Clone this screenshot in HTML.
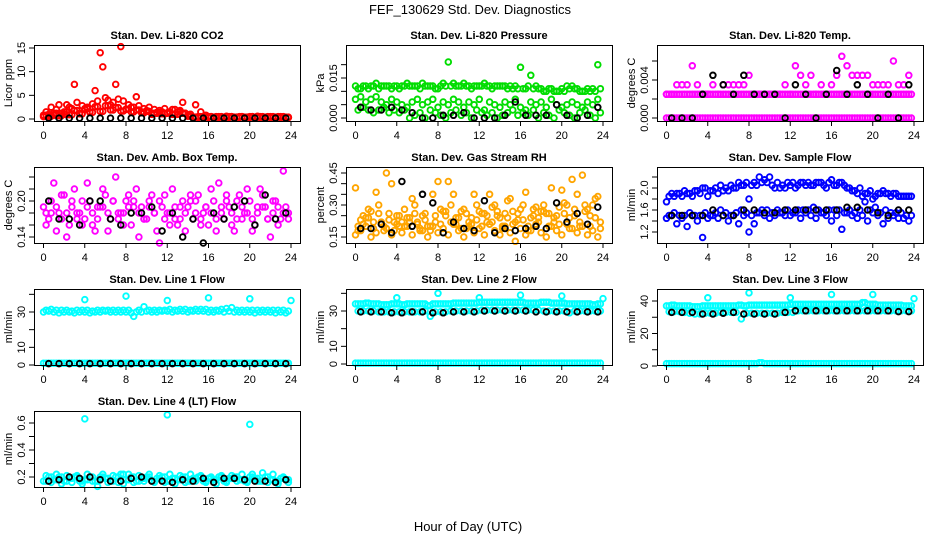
<!DOCTYPE html>
<html><head><meta charset="utf-8"><style>
html,body{margin:0;padding:0;background:#fff;}
svg{display:block;font-family:"Liberation Sans",sans-serif;}
</style></head><body>
<svg id="chart" width="936" height="540" viewBox="0 0 936 540" xmlns="http://www.w3.org/2000/svg">
<text x="470" y="14" font-size="13" text-anchor="middle">FEF_130629  Std. Dev. Diagnostics</text>
<text x="468" y="531" font-size="13" text-anchor="middle">Hour of Day (UTC)</text>
</svg>
<script>
const H48=[0,0.5,1,1.5,2,2.5,3,3.5,4,4.5,5,5.5,6,6.5,7,7.5,8,8.5,9,9.5,10,10.5,11,11.5,12,12.5,13,13.5,14,14.5,15,15.5,16,16.5,17,17.5,18,18.5,19,19.5,20,20.5,21,21.5,22,22.5,23,23.5];
const HQ48=[0.25,0.75,1.25,1.75,2.25,2.75,3.25,3.75,4.25,4.75,5.25,5.75,6.25,6.75,7.25,7.75,8.25,8.75,9.25,9.75,10.25,10.75,11.25,11.75,12.25,12.75,13.25,13.75,14.25,14.75,15.25,15.75,16.25,16.75,17.25,17.75,18.25,18.75,19.25,19.75,20.25,20.75,21.25,21.75,22.25,22.75,23.25,23.75];
const HB24=[0.5,1.5,2.5,3.5,4.5,5.5,6.5,7.5,8.5,9.5,10.5,11.5,12.5,13.5,14.5,15.5,16.5,17.5,18.5,19.5,20.5,21.5,22.5,23.5];
const xTicks=[0,4,8,12,16,20,24];
// CO2
const co2A=[1.5,2.5,2,1.2,3,2.2,3.5,2.8,2.5,3.2,3.8,11,4,3.5,4.2,3.8,3,2.5,2.8,2.2,2.5,2,1.8,2.2,1.5,2,1.8,1.2,1,3,1.5,0.8,0.5,0.5,0.4,0.6,0.5,0.4,0.5,0.4,0.5,0.6,0.4,0.5,0.4,0.5,0.4,0.3];
const co2B=[0.5,1,0.8,3,1,2.5,7.3,1.2,2,1.5,6,14,4.5,3,7.3,15.3,2,2.5,4.7,1.5,1.8,1,1.2,1.5,1.2,2,1,3.5,0.8,0.4,0.3,0.3,0.3,0.3,0.3,0.3,0.3,0.3,0.3,0.3,0.3,0.3,0.3,0.3,0.3,0.3,0.3,0.3];
const co2C=[0.8,0.6,1.2,0.7,1.5,0.9,1.8,1.1,2.2,1.4,2.6,1.6,2.8,1.9,2.4,1.7,2.1,1.5,1.9,1.3,1.6,1.2,1.4,1.1,1.3,1.0,1.5,1.2,0.6,0.4,0.5,0.4,0.5,0.4,0.5,0.4,0.5,0.4,0.5,0.4,0.5,0.4,0.5,0.4,0.5,0.4,0.5,0.4];
const co2K=[0.2,0.2,0.2,0.2,0.2,0.2,0.2,0.2,0.2,0.2,0.2,0.2,0.2,0.2,0.2,0.2,0.2,0.2,0.2,0.2,0.2,0.2,0.2,0.2];
// Pressure
const pA=[0.012,0.011,0.012,0.012,0.013,0.012,0.012,0.011,0.012,0.012,0.013,0.012,0.012,0.013,0.012,0.012,0.011,0.013,0.021,0.013,0.012,0.013,0.012,0.012,0.012,0.013,0.012,0.012,0.012,0.012,0.012,0.012,0.019,0.011,0.016,0.012,0.011,0.010,0.011,0.010,0.011,0.012,0.012,0.011,0.010,0.011,0.011,0.020];
const pB=[0.007,0.008,0.006,0.007,0.008,0.006,0.005,0.007,0.006,0.005,0.004,0.006,0.007,0.005,0.006,0.007,0.004,0.006,0.005,0.007,0.006,0.004,0.006,0.005,0.007,0.003,0.006,0.005,0.004,0.006,0.005,0.007,0.004,0.003,0.006,0.005,0.006,0.004,0.007,0.005,0.004,0.005,0.006,0.005,0.004,0.006,0.005,0.007];
const pC=[0.003,0.004,0.003,0.002,0.003,0.004,0.002,0.003,0.002,0.003,0.000,0.001,0.002,0.000,0.003,0.002,0.001,0.000,0.002,0.003,0.001,0.002,0.000,0.003,0.002,0.001,0.002,0.000,0.001,0.002,0.003,0.001,0.002,0.001,0.003,0.000,0.002,0.001,0.000,0.003,0.002,0.001,0.000,0.002,0.003,0.001,0.000,0.002];
const pD=[0.011,0.012,0.011,0.012,0.011,0.012,0.012,0.012,0.011,0.012,0.012,0.012,0.011,0.012,0.012,0.011,0.012,0.012,0.012,0.012,0.012,0.012,0.011,0.012,0.012,0.012,0.011,0.012,0.012,0.011,0.011,0.011,0.011,0.012,0.011,0.011,0.010,0.011,0.010,0.010,0.010,0.011,0.011,0.010,0.010,0.010,0.010,0.011];
const pK=[0.004,0.003,0.003,0.004,0.003,0.002,0.000,0.000,0.001,0.001,0.002,0.000,0.000,0.000,0.001,0.006,0.001,0.001,0.001,0.005,0.001,0.000,0.001,0.004];
// Li-820 Temp
const tA=[0,0,0,0,0,0,0,0,0,0,0,0,0,0,0,0,0,0,0,0,0,0,0,0,0,0,0,0,0,0,0,0,0,0,0,0,0,0,0,0,0,0,0,0,0,0,0,0];
const tB=[0.0025,0.0025,0.0025,0.0025,0.0025,0.0025,0.0025,0.0025,0.0025,0.0025,0.0025,0.0025,0.0025,0.0025,0.0025,0.0025,0.0025,0.0025,0.0025,0.0025,0.0025,0.0025,0.0025,0.0025,0.0025,0.0025,0.0025,0.0025,0.0025,0.0025,0.0025,0.0025,0.0025,0.0025,0.0025,0.0025,0.0025,0.0025,0.0025,0.0025,0.0025,0.0025,0.0025,0.0025,0.0025,0.0025,0.0025,0.0025];
const tC=[0.0025,0.0025,0.0035,0.0035,0.0035,0.0055,0.0035,0.0025,0.0025,0.0035,0.0025,0.0035,0.0035,0.0035,0.0035,0.0035,0.0045,0.0025,0.0025,0.0025,0.0025,0.0025,0.0025,0.0035,0.0025,0.0055,0.0045,0.0035,0.0045,0.0025,0.0035,0.0025,0.0035,0.0045,0.0065,0.0055,0.0045,0.0045,0.0045,0.0045,0.0035,0.0035,0.0035,0.0035,0.006,0.0035,0.0035,0.0045];
const tK=[0,0,0,0.0025,0.0045,0.0035,0.0025,0.0045,0.0025,0.0025,0.0025,0,0.0035,0.0025,0,0.0025,0.005,0.0025,0.0035,0.0025,0,0.0025,0,0.0035];
// Box temp
const bA=[0.19,0.17,0.23,0.18,0.21,0.16,0.22,0.18,0.17,0.2,0.15,0.19,0.21,0.17,0.24,0.18,0.2,0.16,0.22,0.19,0.17,0.21,0.15,0.19,0.18,0.22,0.16,0.2,0.19,0.17,0.21,0.18,0.16,0.2,0.23,0.17,0.19,0.15,0.21,0.18,0.2,0.16,0.22,0.19,0.14,0.2,0.17,0.19];
const bB=[0.16,0.2,0.15,0.21,0.14,0.19,0.17,0.2,0.23,0.16,0.19,0.22,0.15,0.2,0.18,0.16,0.21,0.19,0.14,0.17,0.2,0.18,0.13,0.21,0.16,0.19,0.17,0.15,0.21,0.2,0.16,0.19,0.22,0.15,0.18,0.21,0.16,0.2,0.17,0.22,0.15,0.19,0.21,0.17,0.2,0.16,0.25,0.18];
const bC=[0.18,0.18,0.19,0.17,0.18,0.2,0.18,0.16,0.19,0.18,0.17,0.19,0.18,0.2,0.17,0.18,0.19,0.2,0.18,0.17,0.19,0.18,0.2,0.17,0.18,0.17,0.19,0.18,0.2,0.18,0.17,0.19,0.18,0.17,0.19,0.2,0.18,0.17,0.19,0.18,0.17,0.18,0.19,0.17,0.18,0.19,0.18,0.17];
const bK=[0.2,0.17,0.17,0.16,0.2,0.2,0.17,0.16,0.18,0.18,0.19,0.15,0.18,0.14,0.17,0.13,0.18,0.17,0.19,0.2,0.16,0.21,0.17,0.18];
// RH
const rA=[0.2,0.25,0.28,0.22,0.3,0.18,0.26,0.22,0.2,0.28,0.24,0.3,0.18,0.26,0.2,0.22,0.28,0.25,0.3,0.21,0.27,0.19,0.24,0.3,0.26,0.22,0.29,0.25,0.2,0.32,0.27,0.23,0.3,0.2,0.28,0.24,0.3,0.26,0.22,0.29,0.31,0.24,0.28,0.2,0.3,0.25,0.33,0.22];
const rB=[0.16,0.18,0.2,0.15,0.17,0.22,0.19,0.16,0.21,0.17,0.2,0.16,0.22,0.18,0.15,0.2,0.17,0.19,0.16,0.21,0.18,0.15,0.2,0.17,0.19,0.16,0.21,0.18,0.16,0.2,0.17,0.13,0.19,0.16,0.18,0.21,0.17,0.15,0.2,0.18,0.16,0.21,0.19,0.17,0.2,0.16,0.18,0.15];
const rC=[0.38,0.23,0.24,0.27,0.36,0.22,0.45,0.4,0.25,0.22,0.24,0.33,0.21,0.25,0.2,0.35,0.41,0.27,0.41,0.35,0.24,0.28,0.22,0.35,0.27,0.26,0.35,0.3,0.24,0.26,0.33,0.22,0.28,0.36,0.24,0.29,0.27,0.26,0.38,0.25,0.37,0.3,0.42,0.35,0.44,0.28,0.3,0.34];
const rD=[0.18,0.21,0.24,0.19,0.26,0.2,0.23,0.18,0.25,0.2,0.22,0.26,0.19,0.23,0.18,0.25,0.21,0.27,0.22,0.24,0.19,0.26,0.21,0.23,0.2,0.25,0.22,0.27,0.19,0.24,0.21,0.26,0.23,0.18,0.25,0.22,0.27,0.2,0.24,0.21,0.26,0.19,0.25,0.22,0.27,0.2,0.24,0.19];
const rK=[0.19,0.19,0.21,0.17,0.41,0.2,0.35,0.31,0.17,0.22,0.19,0.18,0.32,0.17,0.19,0.18,0.19,0.2,0.19,0.31,0.22,0.26,0.21,0.29];
// Sample flow
const sA=[1.75,1.9,1.9,1.85,1.9,1.85,1.95,2.0,1.85,1.95,1.9,1.95,1.95,2.0,2.1,2.05,1.8,2.1,2.2,2.15,2.2,2.0,2.0,2.0,2.05,2.0,2.1,2.05,2.05,2.1,2.1,2.0,2.15,2.05,2.1,2.0,1.95,1.9,1.85,1.9,1.8,1.9,1.95,1.9,1.9,1.85,1.85,1.85];
const sB=[1.45,1.5,1.35,1.45,1.3,1.5,1.4,1.1,1.45,1.5,1.45,1.5,1.4,1.5,1.35,1.5,1.2,1.35,1.55,1.5,1.45,1.5,1.55,1.5,1.5,1.55,1.45,1.55,1.5,1.45,1.55,1.5,1.4,1.5,1.25,1.55,1.5,1.45,1.5,1.4,1.55,1.5,1.35,1.45,1.5,1.45,1.45,1.4];
const sC=[1.5,1.55,1.5,1.5,1.55,1.5,1.5,1.55,1.5,1.55,1.6,1.55,1.5,1.55,1.6,1.55,1.5,1.55,1.6,1.6,1.55,1.6,1.55,1.6,1.55,1.6,1.6,1.6,1.65,1.6,1.55,1.6,1.6,1.6,1.55,1.6,1.55,1.6,1.75,1.6,1.65,1.55,1.6,1.55,1.55,1.55,1.5,1.5];
const sD=[1.85,1.85,1.9,1.95,1.9,1.95,1.9,2.0,1.95,2.0,2.05,2.0,2.05,2.0,2.05,2.1,2.05,2.05,2.1,2.1,2.05,2.1,2.05,2.1,2.1,2.05,2.1,2.1,2.05,2.1,2.05,2.1,2.05,2.1,2.05,2.0,1.95,2.0,1.9,1.95,1.85,1.9,1.9,1.85,1.9,1.85,1.85,1.85];
const sK=[1.5,1.5,1.5,1.5,1.6,1.5,1.5,1.6,1.6,1.55,1.55,1.6,1.6,1.6,1.6,1.6,1.6,1.65,1.65,1.6,1.55,1.5,1.6,1.6];
// Line flows
const outH=[4,8,12,16,20,24];
const l1A=[30,30.5,30,29.5,30,30,29.5,30,30,29.5,30,30,30.5,30,30,30,30,29.5,30,30,30.5,30,30,30.5,30.5,30,30.5,30.5,30,30.5,30.5,30.5,30,30,30.5,30,30.5,30,30,30,30,29.5,30,30,30,29.5,30,29.5];
const l1B=[31,31.5,31,31,31,30.5,31,31,31,30.5,31,31,31,31,31,31,31,27.5,31,33,31,31,31,31,31.5,31,31.5,31.5,31,31.5,31.5,31.5,31,31,31.5,32,32.5,31,31,31,31,31,31,31,31,31,31,30.5];
const l1Low=[1,1,1,1,1,1,1,1,1,1,1,1,1,1,1,1,1,1,1,1,1,1,1,1,1,1,1,1,1,1,1,1,1,1,1,1,1,1,1,1,1,1,1,1,1,1,1,1];
const l1K=[0.8,0.8,0.8,0.8,0.8,0.8,0.8,0.8,0.8,0.8,0.8,0.8,0.8,0.8,0.8,0.8,0.8,0.8,0.8,0.8,0.8,0.8,0.8,0.8];
const l1Out=[37,39,36.5,38,37.5,36.5];
const l2A=[34,34,34.5,34,34,33.5,33.5,34,34,33.5,34,34,34,34,33,34,34,34,34,34.5,34.5,34.5,34.5,34.5,35,35,35,35,35,35,35,35,35,34.5,34.5,34.5,35,35,34.5,34.5,34.5,34,34,34,34,34,33.5,34];
const l2B=[30,30,30,30,29.5,29.5,29.5,29.5,29.5,29.5,29.5,29.5,29.5,30,27,29.5,29.5,29.5,30,30,30,30,30,30,30.5,30.5,30.5,30.5,30.5,30.5,30.5,30.5,30.5,30.5,30.5,30.5,30,30,30,30,30,29,30,30,30,30,30,30];
const l2Low=[0.5,0.5,0.5,0.5,0.5,0.5,0.5,0.5,0.5,0.5,0.5,0.5,0.5,0.5,0.5,0.5,0.5,0.5,0.5,0.5,0.5,0.5,0.5,0.5,0.5,0.5,0.5,0.5,0.5,0.5,0.5,0.5,0.5,0.5,0.5,0.5,0.5,0.5,0.5,0.5,0.5,0.5,0.5,0.5,0.5,0.5,0.5,0.5];
const l2K=[29.5,29.5,29.5,29,29,29.5,29.5,29,29,29.5,29.5,29.5,30,30,30,30,30,29.5,29.5,29.5,29.5,29.5,29.5,29.5];
const l2Out=[37.5,40,37.5,39,38.5,37];
const l3A=[37,37.5,37,37,37,36.5,36.5,37,37,37,37,37,37,37,37.5,37,37.5,37.5,37.5,37.5,37.5,37.5,37.5,37.5,38,38,38,38,38,38,38,38,38,38,38,38,38,38,39,38,38,37.5,37.5,37.5,37.5,37.5,37,37];
const l3B=[33.5,33.5,33.5,33,32.5,32,32,32.5,32.5,32.5,33,33,33,33,29,32.5,32.5,32.5,32.5,32.5,32.5,32.5,33,33,33,34,34,34,34,34,34,34,34,34,34,34,34,34,34,34,34,34,34,34,34,34,34,34];
const l3Low=[1.5,1.5,1.5,1.5,1.5,1.5,1.5,1.5,1.5,1.5,1.5,1.5,1.5,1.5,1.5,1.5,1.5,1.5,2,1.5,1.5,1.5,1.5,1.5,1.5,1.5,1.5,1.5,1.5,1.5,1.5,1.5,1.5,1.5,1.5,1.5,1.5,1.5,1.5,1.5,1.5,1.5,1.5,1.5,1.5,1.5,1.5,1.5];
const l3K=[33,33,33,32,32,32.5,33,32,32,32,32,33,34,34,34,34,34,34,34,34,34,34,33.5,33.5];
const l3Out=[42,45,42,44,44,41.5];
const l4A=[0.17,0.2,0.18,0.2,0.17,0.19,0.2,0.17,0.18,0.2,0.17,0.2,0.19,0.17,0.2,0.22,0.18,0.2,0.17,0.19,0.2,0.17,0.19,0.2,0.17,0.19,0.18,0.2,0.17,0.19,0.2,0.17,0.19,0.18,0.2,0.17,0.19,0.2,0.18,0.17,0.2,0.19,0.17,0.2,0.18,0.17,0.19,0.18];
const l4B=[0.21,0.16,0.22,0.15,0.21,0.16,0.21,0.15,0.22,0.17,0.13,0.22,0.16,0.21,0.16,0.15,0.22,0.16,0.21,0.17,0.22,0.16,0.21,0.16,0.22,0.15,0.21,0.16,0.22,0.17,0.21,0.16,0.2,0.15,0.21,0.16,0.21,0.17,0.22,0.16,0.22,0.17,0.23,0.16,0.22,0.15,0.2,0.16];
const l4K=[0.17,0.18,0.2,0.19,0.2,0.18,0.17,0.17,0.19,0.2,0.17,0.17,0.16,0.18,0.17,0.19,0.16,0.19,0.19,0.18,0.17,0.17,0.16,0.18];
const l4Out=[0.63,0.66,0.59];
const l4OutH=[4,12,20];

const svg=document.getElementById('chart');
const NS='http://www.w3.org/2000/svg';
function mk(tag,attrs,parent){const e=document.createElementNS(NS,tag);for(const k in attrs)e.setAttribute(k,attrs[k]);(parent||svg).appendChild(e);return e;}

const colL=[34,346,657], rowT=[45,167,289,411], PW=266, PH=76;
const panels=[
 {name:'co2',title:'Stan. Dev. Li-820 CO2',ylab:'Licor ppm',c:0,r:0,cal:[0,119,15,48],ticks:[0,5,10,15],labs:['0','5','10','15'],
  series:[[H48,co2C,'#ff0000'],[HQ48,co2A,'#ff0000'],[H48,co2B,'#ff0000'],[HQ48,co2C,'#ff0000'],[HB24,co2K,'#000000']]},
 {name:'pressure',title:'Stan. Dev. Li-820 Pressure',ylab:'kPa',c:1,r:0,cal:[0,118,0.015,78],ticks:[0,0.005,0.01,0.015,0.02],labs:['0.000','','','0.015',''],
  series:[[H48,pA,'#00dd00'],[HQ48,pD,'#00dd00'],[H48,pB,'#00dd00'],[HQ48,pC,'#00dd00'],[HB24,pK,'#000000']]},
 {name:'li820-temp',title:'Stan. Dev. Li-820 Temp.',ylab:'degrees C',c:2,r:0,cal:[0,118,0.004,80],ticks:[0,0.002,0.004,0.006],labs:['0.000','','0.004',''],
  series:[[H48,tA,'#ff00ff'],[HQ48,tA,'#ff00ff'],[H48,tB,'#ff00ff'],[HQ48,tB,'#ff00ff'],[H48,tC,'#ff00ff'],[HB24,tK,'#000000']]},
 {name:'box-temp',title:'Stan. Dev. Amb. Box Temp.',ylab:'degrees C',c:0,r:1,cal:[0.14,237,0.2,201],ticks:[0.14,0.16,0.18,0.2,0.22,0.24],labs:['0.14','','','0.20','',''],
  series:[[HQ48,bC,'#ff00ff'],[H48,bA,'#ff00ff'],[HQ48,bB,'#ff00ff'],[HB24,bK,'#000000']]},
 {name:'rh',title:'Stan. Dev. Gas Stream RH',ylab:'percent',c:1,r:1,cal:[0.15,237,0.45,173],ticks:[0.15,0.2,0.25,0.3,0.35,0.4,0.45],labs:['0.15','','','0.30','','','0.45'],
  series:[[H48,rB,'#ffa500'],[HQ48,rA,'#ffa500'],[H48,rC,'#ffa500'],[HQ48,rD,'#ffa500'],[HB24,rK,'#000000']]},
 {name:'sample-flow',title:'Stan. Dev. Sample Flow',ylab:'ml/min',c:2,r:1,cal:[1.2,232,2.0,188],ticks:[1.2,1.4,1.6,1.8,2.0,2.2],labs:['1.2','','1.6','','2.0',''],
  series:[[H48,sA,'#0000ff'],[HQ48,sD,'#0000ff'],[H48,sB,'#0000ff'],[HQ48,sC,'#0000ff'],[HB24,sK,'#000000']]},
 {name:'line1-flow',title:'Stan. Dev. Line 1 Flow',ylab:'ml/min',c:0,r:2,cal:[0,365,30,312],ticks:[0,10,20,30,40],labs:['0','10','','30',''],
  series:[[H48,l1A,'#00ffff'],[HQ48,l1B,'#00ffff'],[H48,l1Low,'#00ffff'],[HQ48,l1Low,'#00ffff'],[outH,l1Out,'#00ffff'],[HB24,l1K,'#000000']]},
 {name:'line2-flow',title:'Stan. Dev. Line 2 Flow',ylab:'ml/min',c:1,r:2,cal:[0,364,30,311],ticks:[0,10,20,30,40],labs:['0','10','','30',''],
  series:[[H48,l2A,'#00ffff'],[HQ48,l2A,'#00ffff'],[HQ48,l2B,'#00ffff'],[H48,l2Low,'#00ffff'],[HQ48,l2Low,'#00ffff'],[outH,l2Out,'#00ffff'],[HB24,l2K,'#000000']]},
 {name:'line3-flow',title:'Stan. Dev. Line 3 Flow',ylab:'ml/min',c:2,r:2,cal:[0,366,40,301],ticks:[0,10,20,30,40],labs:['0','','20','','40'],
  series:[[H48,l3A,'#00ffff'],[HQ48,l3A,'#00ffff'],[HQ48,l3B,'#00ffff'],[H48,l3Low,'#00ffff'],[HQ48,l3Low,'#00ffff'],[outH,l3Out,'#00ffff'],[HB24,l3K,'#000000']]},
 {name:'line4-flow',title:'Stan. Dev. Line 4 (LT) Flow',ylab:'ml/min',c:0,r:3,cal:[0.2,477,0.6,423],ticks:[0.2,0.3,0.4,0.5,0.6],labs:['0.2','','0.4','','0.6'],
  series:[[H48,l4A,'#00ffff'],[HQ48,l4B,'#00ffff'],[HQ48,l4A,'#00ffff'],[l4OutH,l4Out,'#00ffff'],[HB24,l4K,'#000000']]}
];

panels.forEach(p=>{
  const L=colL[p.c], T=rowT[p.r], B=T+PH, R=L+PW;
  const x0=L+9.5, x24=L+257;
  const xs=h=>x0+(x24-x0)*h/24;
  const [v0,py0,v1,py1]=p.cal;
  const ys=v=>py0+(py1-py0)*(v-v0)/(v1-v0);
  const g=mk('g',{});
  
  
  const t=mk('text',{x:(L+R)/2,y:T-6,'font-size':11,'font-weight':'bold','text-anchor':'middle'},g);
  t.textContent=p.title;
  
  
  const yl=mk('text',{x:0,y:0,'font-size':11,'text-anchor':'middle',transform:`translate(${L-22},${(T+B)/2}) rotate(-90)`},g);
  yl.textContent=p.ylab;
  
  
  p.series.forEach((s,si)=>{
    const sg=mk('g',{fill:'none',stroke:s[2],'stroke-width':1.9},g);
    
    
    s[0].forEach((h,i)=>{
      if(s[1][i]===undefined)return;
      const c=mk('circle',{cx:xs(h).toFixed(1),cy:ys(s[1][i]).toFixed(1),r:2.8},sg);
      
      
    });
  });
  const box=mk('rect',{x:L+0.5,y:T+0.5,width:PW,height:PH,fill:'none',stroke:'#000','stroke-width':1},g);
  
  
  const xa=mk('g',{},g);
  
  
  mk('line',{x1:xs(0),x2:xs(24),y1:B+0.5,y2:B+0.5,stroke:'#000'},xa);
  xTicks.forEach(h=>{
    mk('line',{x1:xs(h),x2:xs(h),y1:B,y2:B+5,stroke:'#000'},xa);
    const tl=mk('text',{x:xs(h),y:B+18,'font-size':11,'text-anchor':'middle'},xa);
    tl.textContent=h;
    
    
  });
  const ya=mk('g',{},g);
  
  
  const tp=p.ticks.map(ys);
  mk('line',{x1:L+0.5,x2:L+0.5,y1:Math.min(...tp),y2:Math.max(...tp),stroke:'#000'},ya);
  p.ticks.forEach((v,i)=>{
    const y=ys(v);
    mk('line',{x1:L-5,x2:L,y1:y,y2:y,stroke:'#000'},ya);
    if(p.labs[i]){
      const tl=mk('text',{x:0,y:0,'font-size':11,'text-anchor':'middle',transform:`translate(${L-9},${y}) rotate(-90)`},ya);
      tl.textContent=p.labs[i];
      
      
    }
  });
});
</script>
</body></html>
